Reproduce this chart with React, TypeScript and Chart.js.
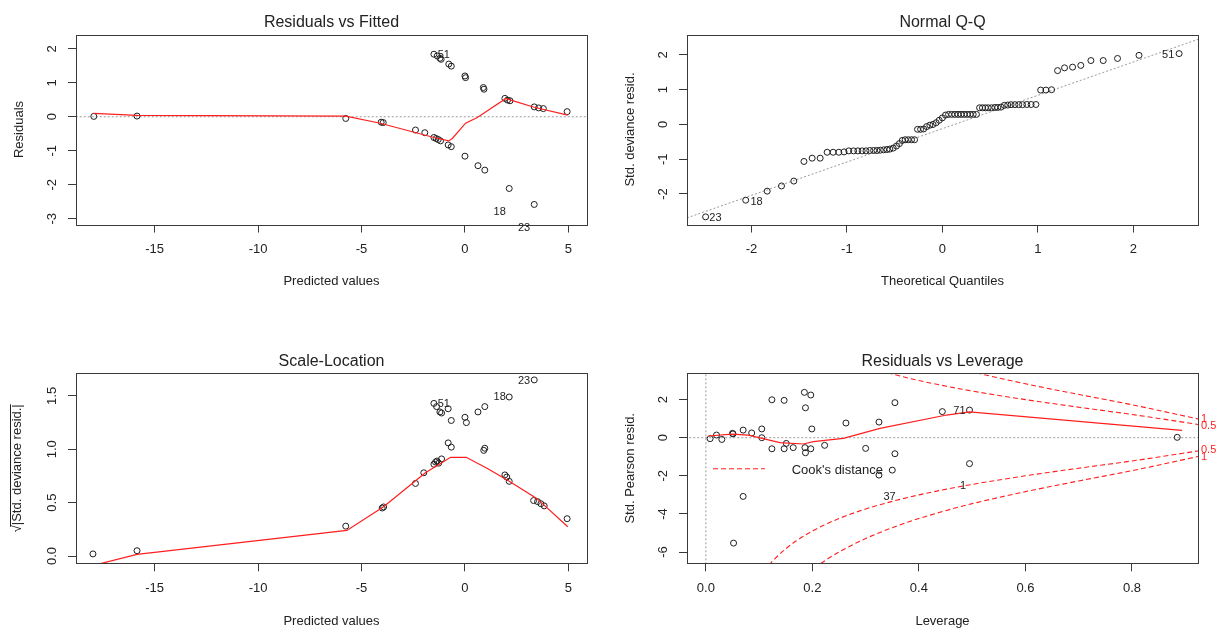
import React, { useEffect, useRef } from "react";
import { Chart, registerables } from "chart.js";

Chart.register(...registerables);

const FONT = '"Liberation Sans", Arial, Helvetica, sans-serif';
const INK = "#222222";
const FRAME = "#3a3a3a";
const RED = "#ff1f1f";
const GREY = "#9a9a9a";

// ---------------- Residuals vs Fitted ----------------
const rvfFitted = [-17.94, -15.85, -5.76, -4.05, -3.95, -2.39, -1.94, -1.5, -1.39, -1.29, -1.18, -0.81, -0.66, 0.0, 0.63, 0.96, 2.14, 3.35, -1.5, -1.34, -1.21, -1.15, -0.78, -0.66, 0.0, 0.03, 0.89, 0.92, 1.93, 2.06, 2.18, 3.35, 3.56, 3.79, 4.94];
const rvfResid = [0.01, 0.02, -0.05, -0.16, -0.17, -0.39, -0.47, -0.61, -0.64, -0.67, -0.71, -0.83, -0.88, -1.16, -1.44, -1.57, -2.11, -2.58, 1.84, 1.79, 1.72, 1.69, 1.55, 1.49, 1.2, 1.15, 0.86, 0.81, 0.54, 0.49, 0.47, 0.29, 0.26, 0.24, 0.15];
const rvfSmoothX = [-17.94, -15.85, -5.76, -4.09, -1.5, -0.78, -0.61, 0.03, 0.6, 1.98, 2.22, 3.35, 4.97];
const rvfSmoothY = [0.1, 0.04, 0.02, -0.19, -0.61, -0.71, -0.64, -0.19, -0.02, 0.54, 0.49, 0.28, 0.05];
const rvfZeroX = [-25, 10];
const rvfZeroY = [0, 0];
const rvfLabelText = ["51", "18", "23"];
const rvfLabelX = [-1.02, 1.68, 2.86];
const rvfLabelY = [1.81, -2.79, -3.28];
const fittedTicks = [-15, -10, -5, 0, 5];
const residTicks = [-3, -2, -1, 0, 1, 2];

// ---------------- Normal Q-Q ----------------
const qqTheo = [-2.48, -2.06, -1.835, -1.685, -1.556, -1.45, -1.364, -1.28, -1.207, -1.144, -1.085, -1.03, -0.98, -0.93, -0.885, -0.84, -0.8, -0.76, -0.72, -0.685, -0.65, -0.615, -0.58, -0.55, -0.515, -0.48, -0.45, -0.42, -0.39, -0.357, -0.323, -0.291, -0.26, -0.228, -0.196, -0.164, -0.131, -0.098, -0.065, -0.033, 0.0, 0.033, 0.065, 0.098, 0.131, 0.164, 0.196, 0.228, 0.26, 0.291, 0.323, 0.357, 0.39, 0.42, 0.45, 0.48, 0.515, 0.55, 0.58, 0.615, 0.65, 0.685, 0.72, 0.76, 0.8, 0.84, 0.885, 0.93, 0.98, 1.03, 1.085, 1.144, 1.207, 1.28, 1.364, 1.45, 1.556, 1.685, 1.835, 2.06, 2.48];
const qqStd = [-2.66, -2.18, -1.92, -1.77, -1.63, -1.065, -0.97, -0.97, -0.8, -0.8, -0.8, -0.79, -0.76, -0.76, -0.76, -0.76, -0.76, -0.75, -0.75, -0.75, -0.74, -0.73, -0.72, -0.71, -0.68, -0.62, -0.55, -0.46, -0.44, -0.44, -0.44, -0.44, -0.14, -0.14, -0.13, -0.06, -0.02, 0.0, 0.05, 0.12, 0.19, 0.27, 0.29, 0.29, 0.29, 0.29, 0.29, 0.29, 0.29, 0.29, 0.29, 0.29, 0.48, 0.48, 0.48, 0.48, 0.48, 0.49, 0.49, 0.5, 0.55, 0.56, 0.57, 0.57, 0.57, 0.57, 0.575, 0.575, 0.575, 0.99, 0.99, 1.0, 1.55, 1.63, 1.65, 1.7, 1.84, 1.84, 1.9, 1.99, 2.04];
const qqLineX = [-2.675, 2.678];
const qqLineY = [-2.69, 2.45];
const qqLabelText = ["23", "18", "51"];
const qqLabelX = [-2.377, -1.946, 2.366];
const qqLabelY = [-2.685, -2.236, 2.01];
const qqXTicks = [-2, -1, 0, 1, 2];
const qqYTicks = [-2, -1, 0, 1, 2];

// ---------------- Scale-Location ----------------
const slFitted = [-17.98, -15.85, -5.76, -4.0, -3.93, -2.39, -1.99, -1.5, -1.42, -1.35, -1.27, -1.13, -0.81, -0.66, 0.0, 0.07, 0.63, 0.96, 2.14, 3.35, -1.5, -1.37, -1.21, -1.13, -0.81, -0.66, 0.91, 0.96, 1.93, 2.02, 2.14, 3.32, 3.51, 3.67, 3.83, 4.94];
const slSqrt = [0.02, 0.05, 0.28, 0.45, 0.46, 0.68, 0.78, 0.86, 0.88, 0.89, 0.87, 0.91, 1.06, 1.02, 1.3, 1.25, 1.35, 1.4, 1.49, 1.65, 1.43, 1.4, 1.35, 1.34, 1.38, 1.27, 0.99, 1.01, 0.76, 0.74, 0.7, 0.52, 0.51, 0.49, 0.47, 0.35];
const slSmoothX = [-17.76, -15.85, -5.71, -3.95, -1.91, -0.69, 0.06, 1.09, 2.14, 3.47, 4.97];
const slSmoothY = [-0.078, 0.016, 0.24, 0.46, 0.78, 0.925, 0.925, 0.82, 0.7, 0.54, 0.275];
const slLabelText = ["51", "18", "23"];
const slLabelX = [-1.02, 1.68, 2.86];
const slLabelY = [1.42, 1.49, 1.64];
const slYTicks = [0, 0.5, 1, 1.5];

// ---------------- Residuals vs Leverage ----------------
const levH = [0.008, 0.02, 0.03, 0.05, 0.051, 0.052, 0.07, 0.07, 0.086, 0.105, 0.105, 0.124, 0.124, 0.147, 0.147, 0.151, 0.164, 0.185, 0.197, 0.187, 0.186, 0.187, 0.197, 0.199, 0.223, 0.263, 0.3, 0.325, 0.325, 0.35, 0.355, 0.355, 0.444, 0.495, 0.495, 0.885];
const levResid = [-0.05, 0.14, -0.09, 0.23, 0.2, -5.53, 0.4, -3.08, 0.25, 0.46, 0.0, 1.99, -0.58, 1.96, -0.58, -0.3, -0.52, 2.38, 2.24, 1.57, -0.52, -0.79, -0.58, 0.46, -0.4, 0.77, -0.56, 0.82, -1.96, -1.7, 1.84, -0.84, 1.37, 1.45, -1.36, 0.02];
const levSmoothH = [0.005, 0.049, 0.08, 0.139, 0.183, 0.202, 0.258, 0.327, 0.452, 0.495, 0.894];
const levSmoothY = [0.09, 0.19, 0.14, -0.26, -0.33, -0.21, -0.03, 0.49, 1.19, 1.36, 0.39];
const cookH = [0.1, 0.12, 0.13, 0.15, 0.17, 0.2, 0.22, 0.25, 0.3, 0.35, 0.4, 0.45, 0.5, 0.6, 0.7, 0.8, 0.93];
const cookHalfUpper = [7.35, 6.63, 6.34, 5.83, 5.41, 4.9, 4.61, 4.24, 3.74, 3.34, 3.0, 2.71, 2.45, 2.0, 1.6, 1.22, 0.67];
const cookOneUpper = [10.39, 9.38, 8.96, 8.25, 7.65, 6.93, 6.52, 6.0, 5.29, 4.72, 4.24, 3.83, 3.46, 2.83, 2.27, 1.73, 0.95];
const cookHalfLower = [-7.35, -6.63, -6.34, -5.83, -5.41, -4.9, -4.61, -4.24, -3.74, -3.34, -3.0, -2.71, -2.45, -2.0, -1.6, -1.22, -0.67];
const cookOneLower = [-10.39, -9.38, -8.96, -8.25, -7.65, -6.93, -6.52, -6.0, -5.29, -4.72, -4.24, -3.83, -3.46, -2.83, -2.27, -1.73, -0.95];
const cookLevelText = ["0.5", "1"];
const levZeroX = [-1, 2];
const levZeroY = [0, 0];
const levVertX = [0, 0];
const levVertY = [-10, 10];
const levLabelText = ["71", "37", "1"];
const levLabelX = [0.476, 0.345, 0.483];
const levLabelY = [1.42, -3.1, -2.54];
const levXTicks = [0, 0.2, 0.4, 0.6, 0.8];
const levYTicks = [-6, -4, -2, 0, 2];

// ---------------- helpers ----------------
const pairs = (xs: number[], ys: number[]) => xs.map((x, i) => ({ x, y: ys[i] }));

const pointSet = (data: any[]) => ({
  data,
  showLine: false,
  pointStyle: "circle",
  pointRadius: 3,
  pointHoverRadius: 3,
  pointBorderWidth: 1,
  pointBorderColor: "#1e1e1e",
  pointBackgroundColor: "rgba(0,0,0,0)",
  order: 1,
});

const lineSet = (data: any[], color: string, width: number, dash: number[], order: number, extra: any = {}) => ({
  data,
  showLine: true,
  pointRadius: 0,
  pointHoverRadius: 0,
  borderColor: color,
  backgroundColor: color,
  borderWidth: width,
  borderDash: dash,
  fill: false,
  tension: 0,
  order,
  ...extra,
});

type Area = { left: number; top: number; right: number; bottom: number };

interface PanelSpec {
  area: Area;
  xAxisH: number;
  title: string;
  xTitle: string;
  yTitle: string;
  yTitlePad: number;
  yTickPad: number;
  xRange: [number, number];
  yRange: [number, number];
  xTicks: number[];
  yTicks: number[];
  xDigits: number;
  yDigits: number;
  datasets: any[];
  labelText: string[];
  labelX: number[];
  labelY: number[];
  extra?: (chart: any, p: PanelSpec) => void;
}

const W = 1218;
const H = 628;
const Y_AXIS_W = 76;

const slYTitle = "\u221A|Std. deviance resid.|";

const panels: PanelSpec[] = [
  {
    area: { left: 76, top: 34.5, right: 587, bottom: 224.5 },
    xAxisH: 63.7,
    title: "Residuals vs Fitted",
    xTitle: "Predicted values",
    yTitle: "Residuals",
    yTitlePad: 12.5,
    yTickPad: 10,
    xRange: [-18.8, 5.9],
    yRange: [-3.17, 2.42],
    xTicks: fittedTicks,
    yTicks: residTicks,
    xDigits: 0,
    yDigits: 0,
    datasets: [
      lineSet(pairs(rvfSmoothX, rvfSmoothY), RED, 1.2, [], 0),
      pointSet(pairs(rvfFitted, rvfResid)),
      lineSet(pairs(rvfZeroX, rvfZeroY), GREY, 1, [2, 2], 2),
    ],
    labelText: rvfLabelText,
    labelX: rvfLabelX,
    labelY: rvfLabelY,
  },
  {
    area: { left: 687, top: 34.5, right: 1198, bottom: 224.5 },
    xAxisH: 63.7,
    title: "Normal Q-Q",
    xTitle: "Theoretical Quantiles",
    yTitle: "Std. deviance resid.",
    yTitlePad: 12.5,
    yTickPad: 10,
    xRange: [-2.675, 2.678],
    yRange: [-2.88, 2.59],
    xTicks: qqXTicks,
    yTicks: qqYTicks,
    xDigits: 0,
    yDigits: 0,
    datasets: [
      pointSet(pairs(qqTheo, qqStd)),
      lineSet(pairs(qqLineX, qqLineY), GREY, 1, [2, 2], 2),
    ],
    labelText: qqLabelText,
    labelX: qqLabelX,
    labelY: qqLabelY,
  },
  {
    area: { left: 76, top: 373.3, right: 587, bottom: 563.3 },
    xAxisH: 64.7,
    title: "Scale-Location",
    xTitle: "Predicted values",
    yTitle: slYTitle,
    yTitlePad: 10.8,
    yTickPad: 7,
    xRange: [-18.8, 5.9],
    yRange: [-0.068, 1.712],
    xTicks: fittedTicks,
    yTicks: slYTicks,
    xDigits: 0,
    yDigits: 1,
    datasets: [
      lineSet(pairs(slSmoothX, slSmoothY), RED, 1.2, [], 0),
      pointSet(pairs(slFitted, slSqrt)),
    ],
    labelText: slLabelText,
    labelX: slLabelX,
    labelY: slLabelY,
    extra: (chart, p) => {
      const { ctx, chartArea: a } = chart;
      const ys = chart.scales.y;
      ctx.font = `13px ${FONT}`;
      const w = ctx.measureText(slYTitle).width;
      const sw = ctx.measureText("\u221A").width;
      const tx = ys.left + p.yTitlePad + 6.5;
      const cy = (a.top + a.bottom) / 2;
      const lx = Math.round(tx - 7) + 0.5;
      ctx.strokeStyle = INK;
      ctx.lineWidth = 1;
      ctx.setLineDash([]);
      ctx.beginPath();
      ctx.moveTo(lx, cy + w / 2 - sw + 1.5);
      ctx.lineTo(lx, cy - w / 2);
      ctx.stroke();
    },
  },
  {
    area: { left: 687, top: 373.3, right: 1198, bottom: 563.3 },
    xAxisH: 64.7,
    title: "Residuals vs Leverage",
    xTitle: "Leverage",
    yTitle: "Std. Pearson resid.",
    yTitlePad: 12.5,
    yTickPad: 10,
    xRange: [-0.0354, 0.924],
    yRange: [-6.59, 3.38],
    xTicks: levXTicks,
    yTicks: levYTicks,
    xDigits: 1,
    yDigits: 0,
    datasets: [
      lineSet(pairs(levSmoothH, levSmoothY), RED, 1.2, [], 0),
      pointSet(pairs(levH, levResid)),
      lineSet(pairs(cookH, cookHalfUpper), RED, 1.1, [5, 3], 1, { cubicInterpolationMode: "monotone" }),
      lineSet(pairs(cookH, cookOneUpper), RED, 1.1, [5, 3], 1, { cubicInterpolationMode: "monotone" }),
      lineSet(pairs(cookH, cookHalfLower), RED, 1.1, [5, 3], 1, { cubicInterpolationMode: "monotone" }),
      lineSet(pairs(cookH, cookOneLower), RED, 1.1, [5, 3], 1, { cubicInterpolationMode: "monotone" }),
      lineSet(pairs(levZeroX, levZeroY), GREY, 1, [2, 2], 2),
      lineSet(pairs(levVertX, levVertY), GREY, 1, [2, 2], 2),
    ],
    labelText: levLabelText,
    labelX: levLabelX,
    labelY: levLabelY,
    extra: (chart) => {
      const { ctx, chartArea: a } = chart;
      const ys = chart.scales.y;
      // legend
      ctx.strokeStyle = RED;
      ctx.lineWidth = 1.1;
      ctx.setLineDash([5, 3]);
      ctx.beginPath();
      ctx.moveTo(a.left + 26, a.top + 95.5);
      ctx.lineTo(a.left + 78, a.top + 95.5);
      ctx.stroke();
      ctx.setLineDash([]);
      ctx.fillStyle = INK;
      ctx.font = `13px ${FONT}`;
      ctx.textAlign = "left";
      ctx.textBaseline = "middle";
      ctx.fillText("Cook's distance", a.left + 104.7, a.top + 97);
      // contour level labels
      const last = cookH.length - 1;
      ctx.fillStyle = RED;
      ctx.font = `11px ${FONT}`;
      ctx.fillText(cookLevelText[1], a.right + 3, ys.getPixelForValue(cookOneUpper[last]) - 1);
      ctx.fillText(cookLevelText[0], a.right + 3, ys.getPixelForValue(cookHalfUpper[last]) + 1);
      ctx.fillText(cookLevelText[0], a.right + 3, ys.getPixelForValue(cookHalfLower[last]) - 1);
      ctx.fillText(cookLevelText[1], a.right + 3, ys.getPixelForValue(cookOneLower[last]) + 1);
    },
  },
];

function decorPlugin(p: PanelSpec) {
  return {
    id: "decor",
    afterDraw(chart: any) {
      const { ctx, chartArea: a } = chart;
      const xs = chart.scales.x;
      const ys = chart.scales.y;
      ctx.save();
      // frame
      ctx.strokeStyle = FRAME;
      ctx.lineWidth = 1;
      ctx.setLineDash([]);
      const l = Math.round(a.left) + 0.5;
      const t = Math.round(a.top) + 0.5;
      const r = Math.round(a.right) + 0.5;
      const b = Math.round(a.bottom) + 0.5;
      ctx.strokeRect(l, t, r - l, b - t);
      // title
      ctx.fillStyle = INK;
      ctx.font = `16px ${FONT}`;
      ctx.textAlign = "center";
      ctx.textBaseline = "middle";
      ctx.fillText(p.title, (a.left + a.right) / 2, a.top - 12);
      // point labels
      ctx.font = `11px ${FONT}`;
      p.labelText.forEach((txt, i) => {
        ctx.fillText(txt, xs.getPixelForValue(p.labelX[i]), ys.getPixelForValue(p.labelY[i]));
      });
      if (p.extra) p.extra(chart, p);
      ctx.restore();
    },
  };
}

function buildConfig(p: PanelSpec): any {
  const tickFont = { family: FONT, size: 13 };
  const titleFont = { family: FONT, size: 13, lineHeight: 1 };
  return {
    type: "scatter",
    data: { datasets: p.datasets },
    options: {
      animation: false,
      responsive: false,
      devicePixelRatio: 1,
      events: [],
      layout: {
        padding: {
          left: p.area.left - Y_AXIS_W,
          top: p.area.top,
          right: W - p.area.right,
          bottom: Math.max(0, H - p.area.bottom - p.xAxisH),
        },
      },
      plugins: {
        legend: { display: false },
        tooltip: { enabled: false },
        title: { display: false },
      },
      scales: {
        x: {
          type: "linear",
          position: "bottom",
          min: p.xRange[0],
          max: p.xRange[1],
          afterBuildTicks: (s: any) => {
            s.ticks = p.xTicks.map((v) => ({ value: v }));
          },
          afterFit: (s: any) => {
            s.height = p.xAxisH;
          },
          ticks: {
            font: tickFont,
            color: INK,
            padding: 9,
            minRotation: 0,
            maxRotation: 0,
            autoSkip: false,
            callback: (v: any) => Number(v).toFixed(p.xDigits),
          },
          grid: { display: true, drawOnChartArea: false, drawTicks: true, tickLength: 8, color: FRAME, lineWidth: 1 },
          border: { display: false },
          title: { display: true, text: p.xTitle, font: titleFont, color: INK, padding: { top: 0, bottom: 0 } },
        },
        y: {
          type: "linear",
          position: "left",
          min: p.yRange[0],
          max: p.yRange[1],
          afterBuildTicks: (s: any) => {
            s.ticks = p.yTicks.map((v) => ({ value: v }));
          },
          afterFit: (s: any) => {
            s.width = Y_AXIS_W;
          },
          ticks: {
            font: tickFont,
            color: INK,
            padding: p.yTickPad,
            minRotation: 90,
            maxRotation: 90,
            crossAlign: "center",
            autoSkip: false,
            callback: (v: any) => Number(v).toFixed(p.yDigits),
          },
          grid: { display: true, drawOnChartArea: false, drawTicks: true, tickLength: 8, color: FRAME, lineWidth: 1 },
          border: { display: false },
          title: { display: true, text: p.yTitle, font: titleFont, color: INK, padding: { top: p.yTitlePad, bottom: 0 } },
        },
      },
    },
    plugins: [decorPlugin(p)],
  };
}

export default function App() {
  const r0 = useRef<HTMLCanvasElement>(null);
  const r1 = useRef<HTMLCanvasElement>(null);
  const r2 = useRef<HTMLCanvasElement>(null);
  const r3 = useRef<HTMLCanvasElement>(null);
  const refs = [r0, r1, r2, r3];

  useEffect(() => {
    const charts = panels.map((p, i) => new Chart(refs[i].current as HTMLCanvasElement, buildConfig(p)));
    return () => charts.forEach((c) => c.destroy());
  }, []);

  return (
    <div
      style={{
        position: "fixed",
        left: 0,
        top: 0,
        width: W,
        height: H,
        background: "#ffffff",
        overflow: "hidden",
      }}
    >
      {refs.map((r, i) => (
        <canvas
          key={i}
          ref={r}
          width={W}
          height={H}
          style={{ position: "absolute", left: 0, top: 0, width: W, height: H }}
        />
      ))}
    </div>
  );
}
